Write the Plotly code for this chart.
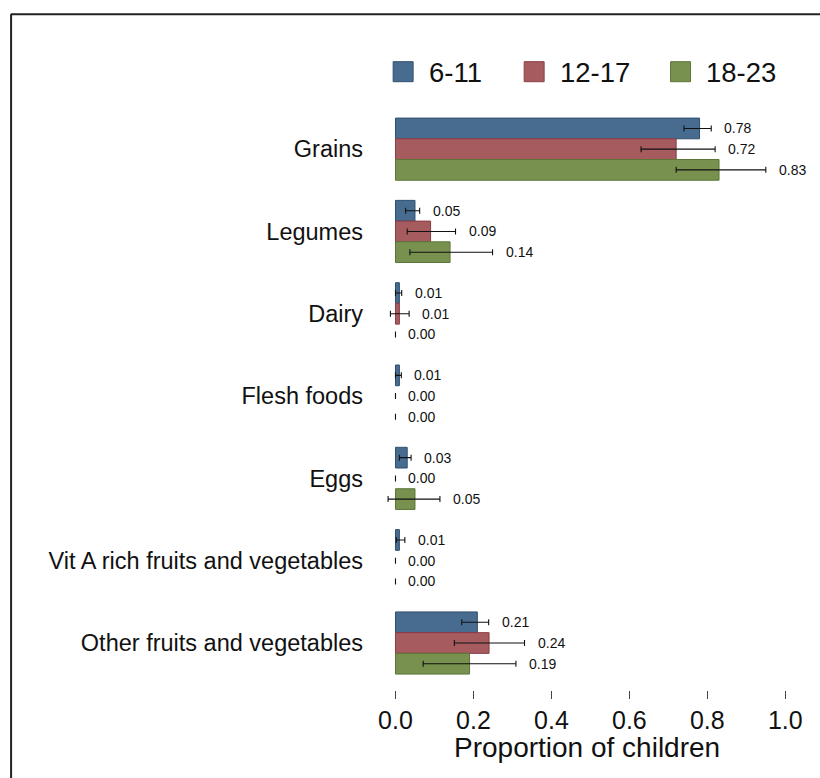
import numpy as np
import plotly.graph_objects as go

# Food groups (top to bottom) and age groups in months
food_groups = ["Grains", "Legumes", "Dairy", "Flesh foods", "Eggs",
               "Vit A rich fruits and vegetables", "Other fruits and vegetables"]
age_groups = ["6-11", "12-17", "18-23"]

# Proportion of children consuming each food group
prop_6_11 = [0.78, 0.05, 0.01, 0.01, 0.03, 0.01, 0.21]
prop_12_17 = [0.72, 0.09, 0.01, 0.00, 0.00, 0.00, 0.24]
prop_18_23 = [0.83, 0.14, 0.00, 0.00, 0.05, 0.00, 0.19]

# 95% confidence interval bounds
lo_6_11 = [0.74, 0.026, 0.000, 0.000, 0.010, 0.002, 0.170]
hi_6_11 = [0.81, 0.062, 0.016, 0.015, 0.040, 0.024, 0.239]
lo_12_17 = [0.63, 0.030, -0.013, 0.0, 0.0, 0.0, 0.151]
hi_12_17 = [0.82, 0.154, 0.035, 0.0, 0.0, 0.0, 0.331]
lo_18_23 = [0.72, 0.037, 0.0, 0.0, -0.019, 0.0, 0.071]
hi_18_23 = [0.95, 0.249, 0.0, 0.0, 0.114, 0.0, 0.309]

fills = ["#486C8F", "#A65B5F", "#78914F"]
edges = ["#2F4F70", "#8B3D44", "#5A7637"]

series = [
    (prop_6_11, lo_6_11, hi_6_11),
    (prop_12_17, lo_12_17, hi_12_17),
    (prop_18_23, lo_18_23, hi_18_23),
]

W, H = 820, 778
ML, MR, MT, MB = 375.5, W - 797.4, 108, 88
BARGAP = 0.245
FONT = "Arial, Liberation Sans, sans-serif"

pos = np.arange(len(food_groups))
n = len(age_groups)
bar_w = (1 - BARGAP) / n

fig = go.Figure()
annotations = []
for k, (name, (vals, lo, hi)) in enumerate(zip(age_groups, series)):
    vals = np.array(vals)
    lo = np.array(lo)
    hi = np.array(hi)
    fig.add_trace(go.Bar(
        y=pos, x=vals, name=name, orientation="h",
        marker=dict(color=fills[k],
                    line=dict(color=edges[k], width=np.where(vals > 0, 1, 0))),
        error_x=dict(type="data", symmetric=False,
                     array=hi - vals, arrayminus=vals - lo,
                     color="#111111", thickness=1.1, width=3),
        showlegend=False,
    ))
    # value labels just beyond the upper CI bound
    offs = (k - (n - 1) / 2) * bar_w
    for i, v in enumerate(vals):
        annotations.append(dict(
            x=hi[i], y=pos[i] + offs, xref="x", yref="y",
            text=f"{v:.2f}", showarrow=False, xanchor="left", yanchor="middle",
            xshift=11, font=dict(family=FONT, size=14, color="#111111"),
        ))

pw = W - ML - MR
ph = H - MT - MB


def px2x(px):
    return (px - ML) / pw


def py2y(py):
    return 1 - (py - MT) / ph


# legend: swatches and labels above the bars
shapes = []
swatch_left = [392.7, 524.0, 670.7]
for k, name in enumerate(age_groups):
    x0 = swatch_left[k]
    shapes.append(dict(type="rect", xref="paper", yref="paper",
                       x0=px2x(x0), x1=px2x(x0 + 20), y0=py2y(81.7), y1=py2y(61.7),
                       fillcolor=fills[k], line=dict(color=edges[k], width=1)))
    annotations.append(dict(x=px2x(x0 + 34), y=py2y(72.5), xref="paper", yref="paper",
                            text=name, showarrow=False, xanchor="left", yanchor="middle",
                            font=dict(family=FONT, size=27.5, color="#111111")))

# x-axis title, centred under the scale
annotations.append(dict(x=0.49, y=py2y(747), xref="x", yref="paper",
                        text="Proportion of children", showarrow=False,
                        xanchor="center", yanchor="middle",
                        font=dict(family=FONT, size=28, color="#111111")))

# outer frame (top and left edges)
shapes.append(dict(type="line", xref="paper", yref="paper",
                   x0=px2x(9.5), x1=px2x(W + 5), y0=py2y(14.3), y1=py2y(14.3),
                   line=dict(color="#222222", width=2)))
shapes.append(dict(type="line", xref="paper", yref="paper",
                   x0=px2x(9.8), x1=px2x(9.8), y0=py2y(14.3), y1=py2y(H + 5),
                   line=dict(color="#222222", width=2)))

fig.update_layout(
    width=W, height=H,
    margin=dict(l=ML, r=MR, t=MT, b=MB, pad=0),
    barmode="group", bargap=BARGAP, bargroupgap=0,
    plot_bgcolor="white", paper_bgcolor="white",
    font=dict(family=FONT, color="#111111"),
    shapes=shapes, annotations=annotations,
)
fig.update_xaxes(
    range=[-0.05, 1.03], tickvals=[0, 0.2, 0.4, 0.6, 0.8, 1.0], tickformat=".1f",
    ticks="outside", ticklen=8, tickwidth=1, tickcolor="#444444",
    showgrid=False, zeroline=False, showline=False,
    tickfont=dict(family=FONT, size=25, color="#111111"),
)
fig.update_yaxes(
    range=[6.571, -0.5], tickvals=pos, ticktext=food_groups,
    ticks="", showgrid=False, zeroline=False, showline=False,
    ticklabelstandoff=12,
    tickfont=dict(family=FONT, size=23.5, color="#111111"),
)

fig.write_html("out.html")
